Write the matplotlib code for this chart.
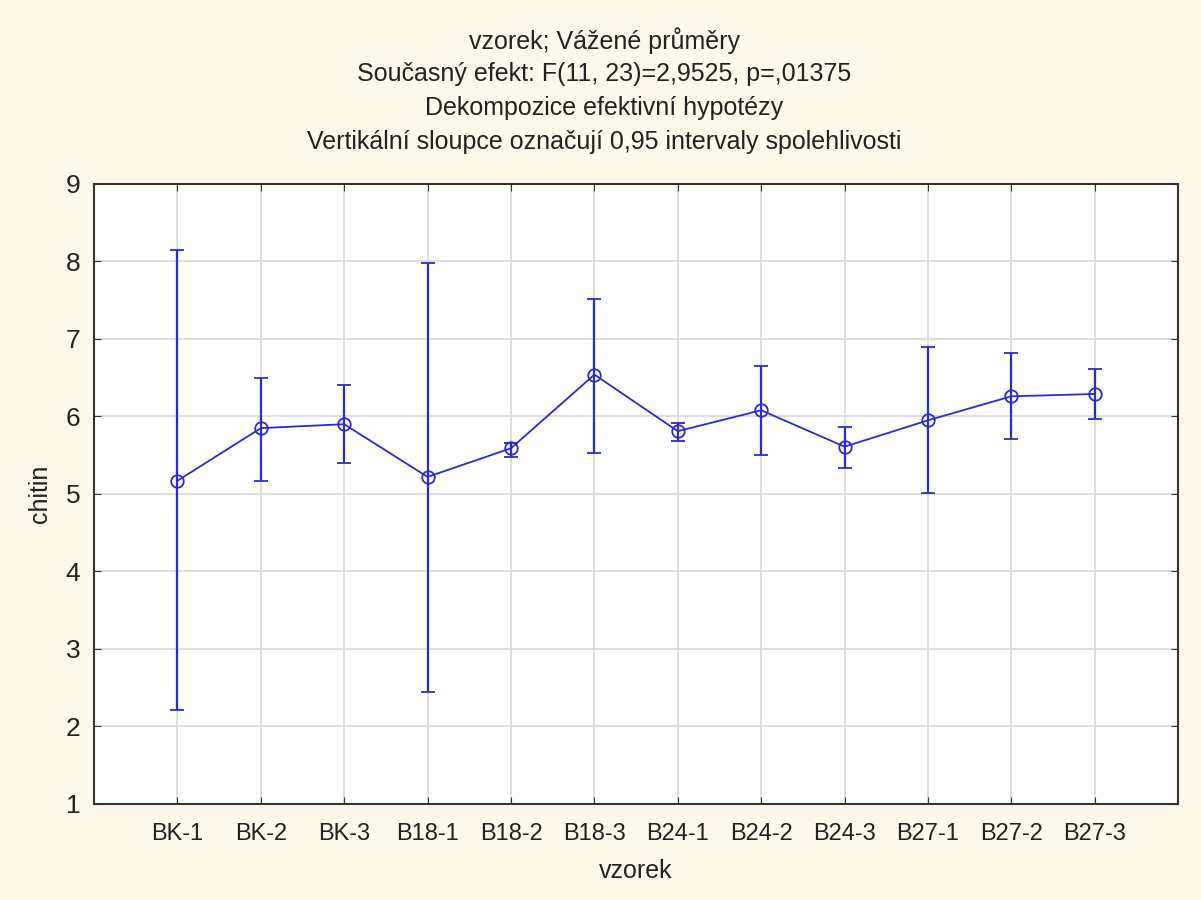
import numpy as np
import matplotlib.pyplot as plt

samples = ['BK-1', 'BK-2', 'BK-3', 'B18-1', 'B18-2', 'B18-3',
           'B24-1', 'B24-2', 'B24-3', 'B27-1', 'B27-2', 'B27-3']
means = [5.17, 5.85, 5.90, 5.22, 5.59, 6.54, 5.81, 6.08, 5.61, 5.95, 6.26, 6.29]
upper = [8.15, 6.50, 6.41, 7.98, 5.66, 7.52, 5.92, 6.65, 5.86, 6.90, 6.82, 6.61]
lower = [2.21, 5.17, 5.40, 2.45, 5.48, 5.53, 5.68, 5.50, 5.34, 5.01, 5.71, 5.97]

title_lines = [
    'vzorek; Vážené průměry',
    'Současný efekt: F(11, 23)=2,9525, p=,01375',
    'Dekompozice efektivní hypotézy',
    'Vertikální sloupce označují 0,95 intervaly spolehlivosti',
]

plt.rcParams['font.family'] = ['Liberation Sans', 'DejaVu Sans']

fig = plt.figure(figsize=(12.01, 9), dpi=100, facecolor='#fcf8ec')
ax = fig.add_axes([0.0783, 0.1067, 0.9027, 0.6889])
ax.set_facecolor('white')

x = np.arange(1, len(samples) + 1)
m = np.array(means)
yerr = [m - np.array(lower), np.array(upper) - m]
blue = '#2b2bd0'
ax.errorbar(x, m, yerr=yerr, color=blue, ecolor=blue, lw=1.3, elinewidth=1.6,
            capsize=5, capthick=1.6, marker='o', ms=9, mfc='none', mec=blue,
            mew=1.3, zorder=3)

ax.set_xlim(0, 13)
ax.set_ylim(1, 9)
ax.set_xticks(x)
ax.set_xticklabels(samples)
ax.set_yticks(range(1, 10))
ax.grid(True, color='#d8d8d8', lw=1.2)
ax.set_axisbelow(True)
ax.tick_params(direction='in', top=True, right=True, length=5, color='#333333')
ax.tick_params(axis='x', labelsize=17, pad=14, labelcolor='#222222')
ax.tick_params(axis='y', labelsize=19, pad=10, labelcolor='#222222')
for s in ax.spines.values():
    s.set_color('#333333')
    s.set_linewidth(1.5)

ax.set_xlabel('vzorek', fontsize=18, labelpad=10, color='#222222')
ax.set_ylabel('chitin', fontsize=18, labelpad=10, color='#222222')

for i, line in enumerate(title_lines):
    fig.text(0.503, 0.955 - i * 0.0375, line, ha='center', va='center',
             fontsize=18, color='#222222')

fig.savefig('out.png', dpi=100, facecolor=fig.get_facecolor())
